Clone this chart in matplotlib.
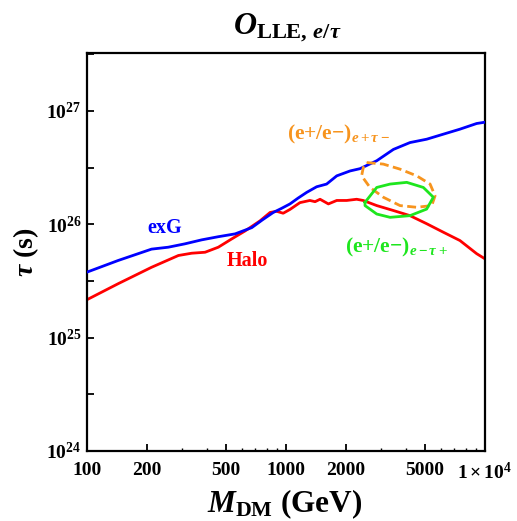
import matplotlib
matplotlib.use("Agg")
import matplotlib.pyplot as plt
from matplotlib.ticker import FixedLocator, FixedFormatter, NullFormatter

plt.rcParams['font.family'] = ['Liberation Serif', 'DejaVu Serif']
plt.rcParams['font.weight'] = 'bold'
plt.rcParams['mathtext.fontset'] = 'custom'
plt.rcParams['mathtext.rm'] = 'Liberation Serif:bold'
plt.rcParams['mathtext.it'] = 'Liberation Serif:italic:bold'
plt.rcParams['mathtext.bf'] = 'Liberation Serif:bold'
plt.rcParams['mathtext.default'] = 'it'

# ---- data ----
exg_mass = [100, 143.5, 211, 256, 310, 377, 457, 555, 673, 760, 863, 950, 1047, 1150,
            1271, 1426, 1600, 1799, 2099, 2355, 2858, 3467, 4198, 5093, 6166, 7482,
            9078, 10000]
exg_tau = [3.78e25, 4.79e25, 6.03e25, 6.27e25, 6.71e25, 7.28e25, 7.76e25, 8.22e25,
           9.33e25, 1.09e26, 1.27e26, 1.38e26, 1.51e26, 1.70e26, 1.91e26, 2.14e26,
           2.26e26, 2.67e26, 2.95e26, 3.09e26, 3.63e26, 4.57e26, 5.25e26, 5.62e26,
           6.22e26, 6.89e26, 7.73e26, 7.94e26]

halo_mass = [100, 143.5, 211, 288, 336, 392, 457, 533, 622, 740, 832, 897, 968, 1047,
             1175, 1318, 1400, 1483, 1633, 1799, 2018, 2265, 2443, 2858, 3467, 4198,
             5093, 6166, 7482, 9078, 10000]
halo_tau = [2.16e25, 2.99e25, 4.17e25, 5.30e25, 5.55e25, 5.66e25, 6.27e25, 7.41e25,
            8.71e25, 1.07e26, 1.27e26, 1.30e26, 1.25e26, 1.35e26, 1.55e26, 1.62e26,
            1.58e26, 1.66e26, 1.51e26, 1.62e26, 1.62e26, 1.66e26, 1.62e26, 1.46e26,
            1.32e26, 1.19e26, 1.01e26, 8.51e25, 7.18e25, 5.50e25, 4.95e25]

# e+ tau- contour (orange, dashed)
etm_mass = [2544, 3083, 3741, 4539, 5297, 5612, 5398, 4539, 3741, 3083, 2643, 2399, 2445, 2544]
etm_tau = [3.50e26, 3.39e26, 3.06e26, 2.67e26, 2.26e26, 1.78e26, 1.46e26, 1.41e26,
           1.46e26, 1.73e26, 2.11e26, 2.67e26, 3.16e26, 3.50e26]

# e- tau+ contour (green, solid)
etp_mass = [2495, 2857, 3334, 4045, 4900, 5500, 5093, 4198, 3334, 2857, 2495, 2495]
etp_tau = [1.56e26, 2.11e26, 2.26e26, 2.34e26, 2.11e26, 1.73e26, 1.36e26, 1.19e26,
           1.15e26, 1.23e26, 1.46e26, 1.56e26]

x_ticks = [100, 200, 500, 1000, 2000, 5000, 10000]
x_ticklabels = ['100', '200', '500', '1000', '2000', '5000', r'$\mathrm{1\times10^{4}}$']
x_minor = [300, 400, 600, 700, 800, 900, 3000, 4000, 6000, 7000, 8000, 9000]
y_ticks = [1e24, 1e25, 1e26, 1e27]
y_ticklabels = [r'$\mathrm{10^{24}}$', r'$\mathrm{10^{25}}$', r'$\mathrm{10^{26}}$', r'$\mathrm{10^{27}}$']
y_minor = [3.162e24, 3.162e25, 3.162e26, 3.162e27]

BLUE = '#0000FF'
RED = '#FF0000'
ORANGE = '#F7941E'
GREEN = '#1EE61E'

W, H = 517, 521
fig = plt.figure(figsize=(W / 100, H / 100), dpi=100)
ax = fig.add_axes([87 / W, 1 - 451 / H, 398 / W, 398 / H])
ax.set_xscale('log')
ax.set_yscale('log')
ax.set_xlim(100, 10000)
ax.set_ylim(1e24, 10 ** 27.51)

lw = 2.0
ax.plot(exg_mass, exg_tau, color=BLUE, lw=lw, solid_joinstyle='round', zorder=3)
ax.plot(halo_mass, halo_tau, color=RED, lw=lw, solid_joinstyle='round', zorder=2)
ax.plot(etm_mass, etm_tau, color=ORANGE, lw=lw, ls=(0, (3.2, 1.6)), zorder=4)
ax.plot(etp_mass, etp_tau, color=GREEN, lw=lw, solid_joinstyle='round', zorder=4)

for s in ax.spines.values():
    s.set_linewidth(1.6)

ax.xaxis.set_major_locator(FixedLocator(x_ticks))
ax.xaxis.set_major_formatter(FixedFormatter(x_ticklabels))
ax.xaxis.set_minor_locator(FixedLocator(x_minor))
ax.xaxis.set_minor_formatter(NullFormatter())
ax.yaxis.set_major_locator(FixedLocator(y_ticks))
ax.yaxis.set_major_formatter(FixedFormatter(y_ticklabels))
ax.yaxis.set_minor_locator(FixedLocator(y_minor))
ax.yaxis.set_minor_formatter(NullFormatter())

ax.tick_params(axis='both', which='major', direction='in', length=5, width=1.3,
               labelsize=14, top=False, right=False)
ax.tick_params(axis='x', which='major', pad=8)
ax.tick_params(axis='y', which='major', pad=4)
ax.tick_params(axis='x', which='minor', direction='in', length=2, width=1.0, top=False)
ax.tick_params(axis='y', which='minor', direction='in', length=5, width=1.3, right=False)
for lab in ax.get_xticklabels() + ax.get_yticklabels():
    lab.set_fontweight('bold')

fs_lab = 14.5
ax.text(202, 8.37e25, 'exG', color=BLUE, fontsize=fs_lab, fontweight='bold',
        ha='left', va='baseline')
ax.text(504, 4.24e25, 'Halo', color=RED, fontsize=fs_lab, fontweight='bold',
        ha='left', va='baseline')
ax.text(1012, 5.55e26, r'$\mathrm{(e{+}/e{-})}_{e+\tau-}$', color=ORANGE, fontsize=15.5,
        ha='left', va='baseline')
ax.text(1977, 5.66e25, r'$\mathrm{(e{+}/e{-})}_{e-\tau+}$', color=GREEN, fontsize=15.5,
        ha='left', va='baseline')

fig.text(287 / W, 1 - 34 / H, r'$O_{\mathrm{LLE,}\,e/\tau}$', fontsize=23,
         ha='center', va='baseline')
fig.text(26 / W, 1 - 252 / H, r'$\tau$ (s)', fontsize=20, rotation=90,
         ha='center', va='center', fontweight='bold')
fig.text(285 / W, 1 - 512 / H, r'$M_{\mathrm{DM}}$ (GeV)', fontsize=22.5,
         ha='center', va='baseline', fontweight='bold')

fig.savefig('out.png', dpi=100)
